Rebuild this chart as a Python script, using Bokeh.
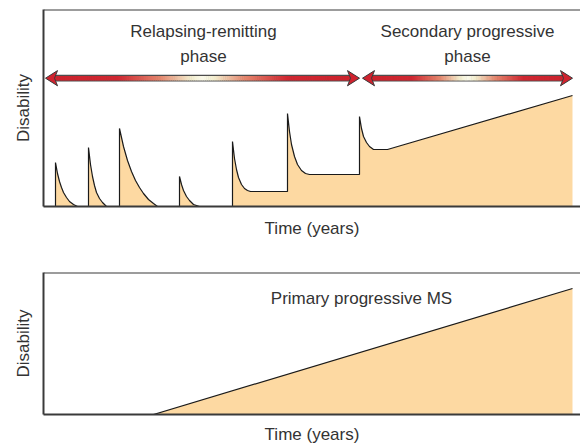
import numpy as np
from bokeh.plotting import figure
from bokeh.models import Range1d, FixedTicker, Label, Span
from bokeh.layouts import column
from bokeh.embed import file_html
from bokeh.resources import INLINE

# ---------------- data (time / disability, arbitrary units) -------------
rrms_time = [0, 12, 12, 14, 16, 18, 20, 23, 26, 30, 34,
             45, 45, 47, 49, 51, 53, 56, 59, 63,
             76, 76, 80, 84, 88, 92, 96, 100, 105, 110, 114,
             136, 136, 138, 140, 143, 146, 150, 156,
             189, 189, 191, 193, 195, 198, 201, 204, 207, 244,
             244, 246, 248, 251, 254, 258, 262, 266, 316,
             316, 318, 320, 323, 326, 330, 344, 529]
rrms_disability = [0, 0, 44, 33, 25, 19, 14, 9, 5, 2, 0,
                   0, 59, 42, 30, 21, 14, 8, 4, 0,
                   0, 78, 60, 46, 35, 26, 19, 13, 7, 3, 0,
                   0, 30, 22, 16, 10, 6, 2, 0,
                   0, 65, 48, 37, 29, 22, 18, 16, 15, 15,
                   93, 75, 62, 50, 42, 36, 33, 32, 32,
                   90, 78, 70, 64, 60, 57, 57, 111]

ppms_time = [0, 110, 529]
ppms_disability = [0, 0, 126]

phase_start = [2, 319]
phase_end = [316, 529]
phase_line1 = ["Relapsing-remitting", "Secondary progressive"]
phase_line2 = ["phase", "phase"]
phase_label_x = [160, 424]
arrow_level = 128.3

ppms_title = "Primary progressive MS"
ppms_title_x = 318

# ---------------- styling ----------------
FONT = "Liberation Sans"
FSIZE = "17px"
TXT = "#333333"
FILL = "#FDD9A2"
AXC = "#3a3a3a"


def make_fig(height, ymax, top_border, bottom_border):
    p = figure(width=580, height=height, output_backend="svg", toolbar_location=None,
               x_range=Range1d(0, 537), y_range=Range1d(0, ymax),
               min_border_left=43, min_border_right=0,
               min_border_top=top_border, min_border_bottom=bottom_border)
    p.outline_line_color = None
    p.grid.visible = False
    p.background_fill_color = "white"
    p.border_fill_color = "white"
    for ax in (p.xaxis[0], p.yaxis[0]):
        ax.ticker = FixedTicker(ticks=[])
        ax.major_tick_line_color = None
        ax.minor_tick_line_color = None
        ax.major_tick_out = 0
        ax.minor_tick_out = 0
        ax.major_label_text_font_size = "0px"
        ax.axis_line_color = AXC
        ax.axis_line_width = 2
        ax.axis_label_text_font = FONT
        ax.axis_label_text_font_size = FSIZE
        ax.axis_label_text_font_style = "normal"
        ax.axis_label_text_color = TXT
    p.xaxis.axis_label = "Time (years)"
    p.yaxis.axis_label = "Disability"
    p.add_layout(Span(location=ymax, dimension="width", line_color=AXC, line_width=2))
    return p


def gradient_colors(n):
    pos = [0.0, 0.22, 0.36, 0.46, 0.5, 0.54, 0.64, 0.78, 1.0]
    r = [205, 208, 228, 242, 250, 242, 228, 208, 205]
    g = [35, 40, 135, 236, 250, 236, 135, 40, 35]
    b = [45, 50, 110, 205, 235, 205, 110, 50, 45]
    f = (np.arange(n) + 0.5) / n
    rr = np.interp(f, pos, r)
    gg = np.interp(f, pos, g)
    bb = np.interp(f, pos, b)
    return ["#%02x%02x%02x" % (int(a), int(c), int(d)) for a, c, d in zip(rr, gg, bb)]


# ---------------- top panel ----------------
p1 = make_fig(256, 197, 9, 50)
p1.xaxis.axis_label_standoff = 12
p1.yaxis.axis_label_standoff = 11

px = list(rrms_time) + [rrms_time[-1]]
py = list(rrms_disability) + [0]
p1.patch(px, py, fill_color=FILL, line_color=None)
p1.line(rrms_time, rrms_disability, line_color="#1a1a1a", line_width=1.2)

for a, b in zip(phase_start, phase_end):
    yc = arrow_level
    p1.quad(left=[a + 6], right=[b - 6], bottom=[yc - 3.4], top=[yc + 3.4],
            fill_color="#4d4d4d", line_color=None)
    n = 160
    edges = np.linspace(a + 6, b - 6, n + 1)
    p1.quad(left=edges[:-1], right=edges[1:] + 0.6, bottom=yc - 2.2, top=yc + 2.2,
            fill_color=gradient_colors(n), line_color=None)
    p1.patch([a, a + 12, a + 9, a + 12], [yc, yc + 7.6, yc, yc - 7.6],
             fill_color="#d0222e", line_color=AXC, line_width=1)
    p1.patch([b, b - 12, b - 9, b - 12], [yc, yc + 7.6, yc, yc - 7.6],
             fill_color="#d0222e", line_color=AXC, line_width=1)

for x, t1, t2 in zip(phase_label_x, phase_line1, phase_line2):
    p1.add_layout(Label(x=x, y=175.5, text=t1, text_align="center", text_baseline="alphabetic",
                        text_font=FONT, text_font_size=FSIZE, text_color=TXT))
    p1.add_layout(Label(x=x, y=150.5, text=t2, text_align="center", text_baseline="alphabetic",
                        text_font=FONT, text_font_size=FSIZE, text_color=TXT))

# ---------------- bottom panel ----------------
p2 = make_fig(191, 142, 16, 33)
p2.xaxis.axis_label_standoff = 10
p2.yaxis.axis_label_standoff = 11

qx = list(ppms_time) + [ppms_time[-1]]
qy = list(ppms_disability) + [0]
p2.patch(qx, qy, fill_color=FILL, line_color=None)
p2.line(ppms_time[1:], ppms_disability[1:], line_color="#1a1a1a", line_width=1.2)
p2.add_layout(Label(x=ppms_title_x, y=116, text=ppms_title, text_align="center",
                    text_baseline="alphabetic", text_font=FONT, text_font_size=FSIZE,
                    text_color=TXT))

layout = column(p1, p2, spacing=0)
open("out.html", "w").write(file_html(layout, INLINE))
